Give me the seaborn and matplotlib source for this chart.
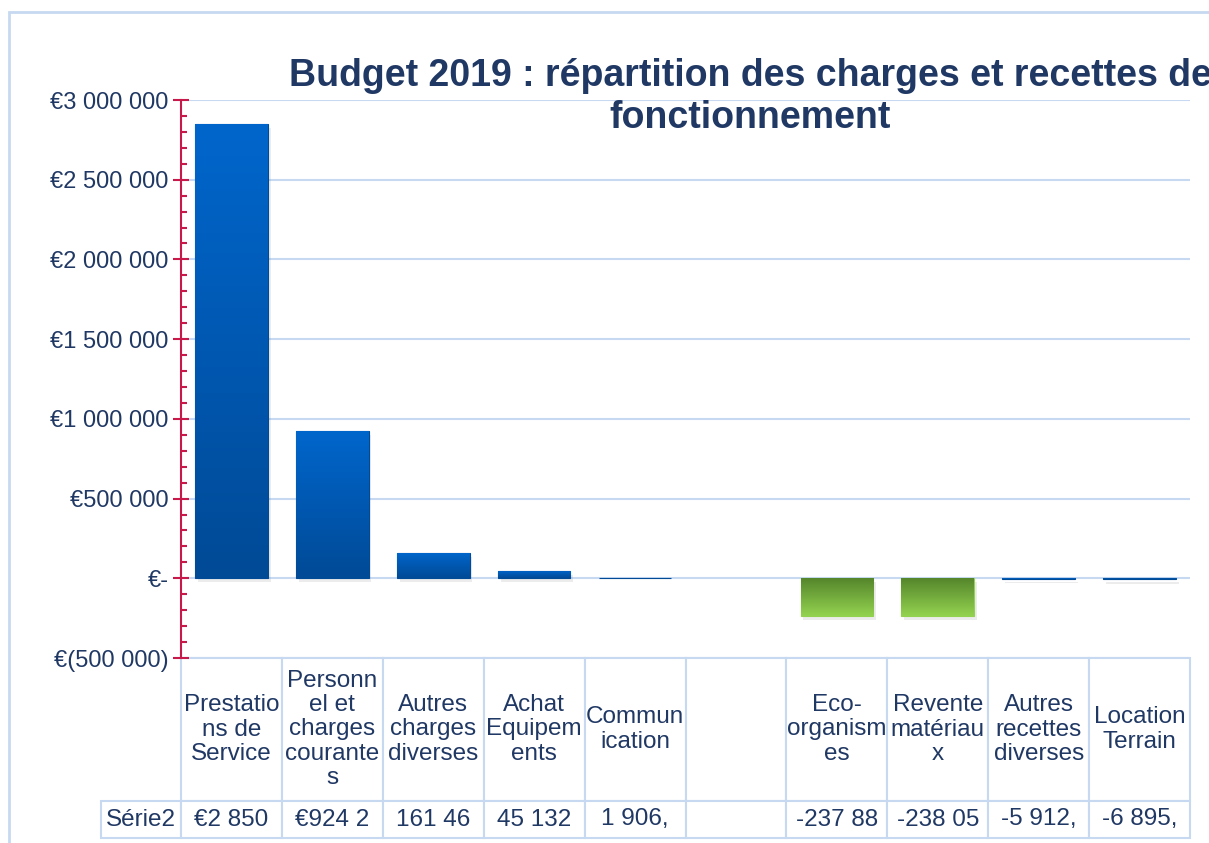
import numpy as np
import pandas as pd
import matplotlib
matplotlib.use("Agg")
import matplotlib.pyplot as plt
import matplotlib.patheffects as pe
from matplotlib.colors import LinearSegmentedColormap
from matplotlib.patches import Rectangle
from matplotlib.table import Table
from matplotlib.ticker import FuncFormatter, MultipleLocator
import seaborn as sns

# Données du budget 2019 (fonctionnement)
postes = ["Prestations de Service", "Personnel et charges courantes",
          "Autres charges diverses", "Achat Equipements", "Communication", " ",
          "Eco-organismes", "Revente matériaux", "Autres recettes diverses",
          "Location Terrain"]
entetes = ["Prestatio\nns de\nService", "Personn\nel et\ncharges\ncourante\ns",
           "Autres\ncharges\ndiverses", "Achat\nEquipem\nents", "Commun\nication", "",
           "Eco-\norganism\nes", "Revente\nmatériau\nx", "Autres\nrecettes\ndiverses",
           "Location\nTerrain"]
montants = [2850000, 924200, 161460, 45132, 1906, np.nan,
            -237880, -238050, -5912, -6895]
valeurs_affichees = ["€2 850", "€924 2", "161 46", "45 132", "1 906,", "",
                     "-237 88", "-238 05", "-5 912,", "-6 895,"]
couleurs = ["bleu", "bleu", "bleu", "bleu", "bleu", "bleu",
            "vert", "vert", "bleu", "bleu"]

# (couleur en haut, couleur en bas) pour les dégradés
gammes = {"bleu": ("#0066CC", "#004A96"), "vert": ("#55862B", "#93D250")}
NAVY = "#203864"
CRIMSON = "#C8194B"
GRILLE = "#C6D9F1"

sns.set_style("white")
plt.rcParams["font.family"] = ["Liberation Sans", "DejaVu Sans"]

df = pd.DataFrame({"poste": postes, "montant": montants}).dropna()
palette = {p: gammes[c][1] for p, c in zip(postes, couleurs)}

fig = plt.figure(figsize=(12.09, 8.43), dpi=100)
ax = fig.add_axes([181 / 1209, 1 - 658 / 843, (1190 - 181) / 1209, 558 / 843])

sns.barplot(data=df, x="poste", y="montant", hue="poste", order=postes,
            hue_order=postes, palette=palette, width=0.72, legend=False,
            ax=ax, linewidth=0.8)

# Dégradés + ombre
for patch in list(ax.patches):
    h = patch.get_height()
    if not np.isfinite(h) or h == 0:
        continue
    x0, w = patch.get_x(), patch.get_width()
    idx = int(round(x0 + w / 2))
    haut, bas = gammes[couleurs[idx]]
    patch.set_edgecolor(bas)
    cmap = LinearSegmentedColormap.from_list("grad", [bas, haut])
    y0, y1 = sorted([patch.get_y(), patch.get_y() + h])
    patch.set_path_effects([pe.SimplePatchShadow(offset=(2, -3), shadow_rgbFace="#808080", alpha=0.15),
                            pe.Normal()])
    img = ax.imshow(np.linspace(0, 1, 256).reshape(-1, 1), extent=[x0, x0 + w, y0, y1],
                    origin="lower", aspect="auto", cmap=cmap, zorder=patch.get_zorder() + 0.1)
    img.set_clip_path(patch)

ax.set_xlim(-0.5, 9.5)
ax.set_ylim(-500000, 3000000)


def fmt_euro(v, pos):
    if abs(v) < 1:
        return "€-"
    s = f"{abs(v):,.0f}".replace(",", " ")
    return f"€({s})" if v < 0 else f"€{s}"


ax.yaxis.set_major_locator(MultipleLocator(500000))
ax.yaxis.set_minor_locator(MultipleLocator(100000))
ax.yaxis.set_major_formatter(FuncFormatter(fmt_euro))
ax.yaxis.grid(True, which="major", color=GRILLE, lw=1.5)
ax.set_axisbelow(True)
ax.tick_params(axis="y", which="both", left=True)
ax.tick_params(axis="y", which="major", direction="inout", length=12, width=1.5,
               color=CRIMSON, labelsize=17, labelcolor=NAVY, pad=3)
ax.tick_params(axis="y", which="minor", direction="in", length=4, width=1.5, color=CRIMSON)
ax.tick_params(axis="x", bottom=False, labelbottom=False)
ax.set_xlabel("")
ax.set_ylabel("")
for side in ["top", "right", "bottom"]:
    ax.spines[side].set_visible(False)
ax.spines["left"].set_color(CRIMSON)
ax.spines["left"].set_linewidth(1.5)

# Table de données sous le graphique (le bbox ne couvre que les colonnes de données)
larg_label = 80 / 1009
tab = Table(ax, bbox=[0, -180 / 558, 1, 180 / 558])
for j, txt in enumerate(entetes):
    tab.add_cell(0, j, width=0.1, height=143, text=txt, loc="center")
tab.add_cell(1, -1, width=larg_label, height=37, text="Série2", loc="center")
for j, txt in enumerate(valeurs_affichees):
    tab.add_cell(1, j, width=0.1, height=37, text=txt, loc="center")
tab.auto_set_font_size(False)
tab.set_fontsize(17.5)
for (r, c), cell in tab.get_celld().items():
    cell.set_edgecolor(GRILLE)
    cell.set_linewidth(1.5)
    cell.get_text().set_color(NAVY)
    cell.get_text().set_linespacing(1.12)
ax.add_table(tab)

# Cadre du graphique
fig.add_artist(Rectangle((9 / 1209, -0.2), 1.5, 1.2 - 12 / 843, transform=fig.transFigure,
                         fill=False, edgecolor=GRILLE, lw=2))

fig.text(750 / 1209, 1 - 97 / 843,
         "Budget 2019 : répartition des charges et recettes de\nfonctionnement",
         ha="center", va="center", fontsize=27, fontweight="bold", color=NAVY,
         linespacing=1.25)

fig.savefig("out.png", dpi=100)
plt.close(fig)
